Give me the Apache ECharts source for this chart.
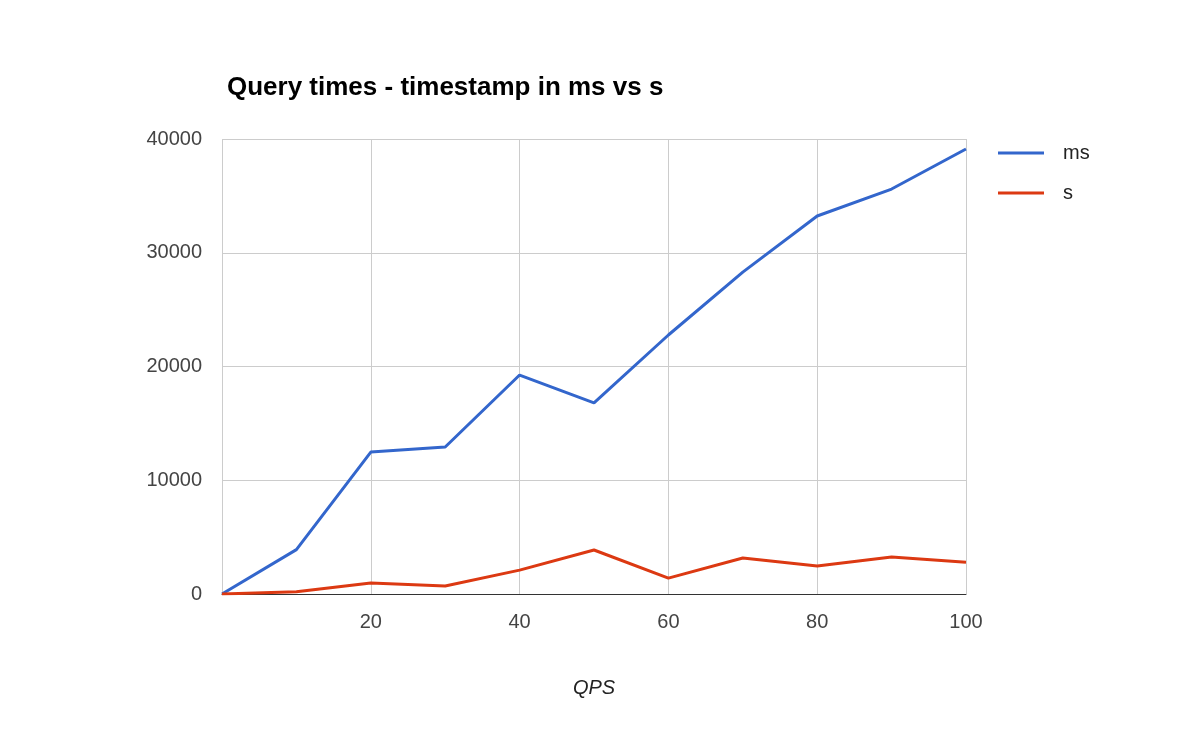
<!DOCTYPE html>
<html><head><meta charset="utf-8">
<script src="https://cdn.jsdelivr.net/npm/echarts@6/dist/echarts.min.js"></script>
<style>html,body{margin:0;padding:0;background:#fff}#c{width:1190px;height:736px}</style>
</head><body><div id="c"></div>
<script>
const qps = [0,10,20,30,40,50,60,70,80,90,100];
const msValues = [0,3900,12480,12920,19250,16800,22770,28300,33230,35600,39120];
const sValues = [0,200,970,700,2100,3870,1400,3160,2460,3250,2800];
const chart = echarts.init(document.getElementById('c'));
const F = 'Arial, "Liberation Sans", sans-serif';
chart.setOption({
  animation:false,
  title:{text:'Query times - timestamp in ms vs s',left:222,top:70,textStyle:{fontFamily:F,fontSize:26,fontWeight:'bold',color:'#000'}},
  legend:{orient:'vertical',left:993,top:138,itemWidth:46,itemHeight:3,itemGap:20,icon:'rect',
    textStyle:{fontFamily:F,fontSize:20,color:'#222',padding:[0,0,0,14]},data:['ms','s']},
  grid:{left:222,right:224,top:139,bottom:142},
  xAxis:{type:'value',min:0,max:100,interval:20,name:'QPS',nameLocation:'middle',nameGap:84,
    nameTextStyle:{fontFamily:F,fontSize:20,fontStyle:'italic',color:'#222'},
    axisLine:{show:true,lineStyle:{color:'#333'}},axisTick:{show:false},
    axisLabel:{fontFamily:F,fontSize:20,color:'#444',margin:18,formatter:v=>v===0?'':v},
    splitLine:{show:true,lineStyle:{color:'#ccc'}}},
  yAxis:{type:'value',min:0,max:40000,interval:10000,
    axisLine:{show:false},axisTick:{show:false},
    axisLabel:{fontFamily:F,fontSize:20,color:'#444',margin:20,formatter:v=>String(v)},
    splitLine:{show:true,lineStyle:{color:'#ccc'}}},
  series:[
    {name:'ms',type:'line',data:qps.map((x,i)=>[x,msValues[i]]),symbol:'none',lineStyle:{width:3,color:'#3366cc'},itemStyle:{color:'#3366cc'}},
    {name:'s',type:'line',data:qps.map((x,i)=>[x,sValues[i]]),symbol:'none',lineStyle:{width:3,color:'#dc3912'},itemStyle:{color:'#dc3912'}}
  ]
});
</script></body></html>
